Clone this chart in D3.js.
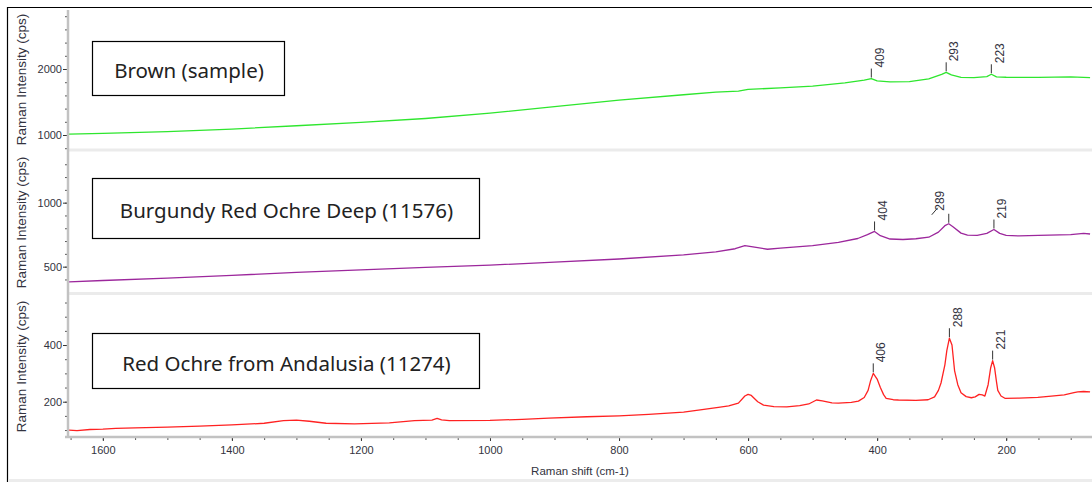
<!DOCTYPE html>
<html><head><meta charset="utf-8">
<script src="https://cdn.jsdelivr.net/npm/d3@7"></script>
<style>
html,body{margin:0;padding:0;background:#fff;}
svg{display:block;}
</style></head><body>
<svg id="chart" width="1092" height="482"></svg>
<script>
// ---------------- data ----------------
const xTickValues = [1600, 1400, 1200, 1000, 800, 600, 400, 200];
const seriesNames = ["Brown (sample)", "Burgundy Red Ochre Deep (11576)", "Red Ochre from Andalusia (11274)"];
const axisTitleY = "Raman Intensity (cps)";
const axisTitleX = "Raman shift (cm-1)";

const brownX = [1654,1600,1500,1400,1300,1200,1100,1000,900,800,700,650,615,600,550,500,450,420,409,400,380,350,320,300,293,285,270,250,230,223,215,200,150,100,70];
const brownY = [1012,1025,1050,1090,1140,1190,1250,1330,1430,1530,1610,1650,1665,1690,1715,1740,1790,1830,1855,1820,1805,1810,1850,1920,1950,1910,1872,1870,1885,1920,1880,1875,1872,1880,1870];
const brownTicks = [1000, 2000];
const brownPeaks = [409, 293, 223];

const burgundyX = [1654,1600,1500,1400,1300,1200,1100,1000,900,800,700,650,620,605,590,570,550,500,460,430,415,404,395,380,360,340,320,305,295,289,282,270,260,245,230,219,210,200,180,150,100,80,70];
const burgundyY = [380,392,410,432,455,475,495,512,535,560,592,615,640,665,652,636,645,665,690,720,750,775,742,716,712,718,730,770,820,835,810,762,746,745,760,790,760,745,740,745,750,760,755];
const burgundyTicks = [500, 1000];
const burgundyPeaks = [404, 289, 219];

const redX = [1654,1640,1620,1600,1580,1550,1500,1450,1400,1350,1320,1300,1280,1254,1210,1156,1117,1090,1082,1075,1063,1000,950,909,850,800,754,700,677,646,630,615,605,600,595,585,576,560,540,520,506,494,485,470,460,440,429,420,414,410,406,400,395,390,386,375,367,340,321,311,305,301,295,292,288,284,280,275,270,262,254,248,242,237,233,228,224,221,218,215,213,208,202,180,151,130,110,95,89,80,70];
const redY = [100,98,102,103,106,108,110,114,118,124,133,135,131,124,122,125,133,135,141,136,133,134,138,142,147,150,155,163,170,180,185,195,220,226,222,200,188,183,182,186,192,206,203,196,195,198,202,215,240,275,300,280,250,225,212,207,206,205,207,217,240,266,330,380,424,400,310,260,232,218,214,217,226,224,220,260,320,345,320,270,240,220,212,213,215,220,224,232,235,236,235];
const redTicks = [200, 400];
const redPeaks = [406, 288, 221];

// ---------------- layout ----------------
const svg = d3.select("#chart");
const W = 1092, H = 482;
const plotLeft = 68, plotRight = 1092;
const x = d3.scaleLinear().domain([1654, 67]).range([plotLeft, plotRight]);
const tickFont = "'Liberation Sans', Arial, sans-serif";
const textColor = "#333340";

const panels = [
  {name: seriesNames[0], xs: brownX, ys: brownY, peaks: brownPeaks, ticks: brownTicks, minor: 200,
   color: "#2ee62e", domain: [788, 2894], range: [149, 10], box: [92, 41, 284, 95]},
  {name: seriesNames[1], xs: burgundyX, ys: burgundyY, peaks: burgundyPeaks, ticks: burgundyTicks, minor: 100,
   color: "#9c279c", domain: [302, 1388], range: [292, 153], box: [92, 178, 479, 238]},
  {name: seriesNames[2], xs: redX, ys: redY, peaks: redPeaks, ticks: redTicks, minor: 50,
   color: "#ff2222", domain: [75.5, 573], range: [437, 296], box: [92, 333, 479, 388]}
];

// outer frame
svg.append("line").attr("x1", 7.5).attr("x2", 7.5).attr("y1", 7).attr("y2", H).attr("stroke", "#000").attr("stroke-width", 1.2);
svg.append("line").attr("x1", 7).attr("x2", W).attr("y1", 7.5).attr("y2", 7.5).attr("stroke", "#000").attr("stroke-width", 1.2);
svg.append("rect").attr("x", 8).attr("y", 479).attr("width", W - 8).attr("height", 3).attr("fill", "#ececec");

// panel separators
svg.append("rect").attr("x", plotLeft).attr("y", 148.5).attr("width", W - plotLeft).attr("height", 3).attr("fill", "#ebebeb");
svg.append("rect").attr("x", plotLeft).attr("y", 292).attr("width", W - plotLeft).attr("height", 3).attr("fill", "#ebebeb");

const defs = svg.append("defs");

panels.forEach((p, i) => {
  const y = d3.scaleLinear().domain(p.domain).range(p.range);
  const clipId = "clip" + i;
  defs.append("clipPath").attr("id", clipId).append("rect")
    .attr("x", plotLeft + 1).attr("y", p.range[1]).attr("width", plotRight - plotLeft).attr("height", p.range[0] - p.range[1]);

  // minor y ticks
  const minorVals = d3.range(Math.ceil(p.domain[0] / p.minor) * p.minor, p.domain[1], p.minor);
  const gMinor = svg.append("g").attr("transform", `translate(${plotLeft - 1},0)`)
    .call(d3.axisLeft(y).tickValues(minorVals).tickSize(2).tickFormat(""));
  gMinor.select(".domain").remove();
  gMinor.selectAll("line").attr("stroke", "#555");

  // major y ticks
  const gY = svg.append("g").attr("transform", `translate(${plotLeft - 1},0)`)
    .call(d3.axisLeft(y).tickValues(p.ticks).tickSize(4).tickPadding(1).tickFormat(d3.format("d")));
  gY.select(".domain").remove();
  gY.selectAll("line").attr("stroke", "#333");
  gY.selectAll("text").attr("font-family", tickFont).attr("font-size", 11).attr("fill", textColor);

  // y axis title
  const cy = (p.range[0] + p.range[1]) / 2;
  svg.append("text")
    .attr("transform", `translate(21,${cy}) rotate(-90)`)
    .attr("text-anchor", "middle").attr("dominant-baseline", "central")
    .attr("font-family", tickFont).attr("font-size", 13.5).attr("fill", textColor)
    .text(axisTitleY);

  // spectrum line
  const pts = p.xs.map((d, k) => [d, p.ys[k]]);
  const line = d3.line().x(d => x(d[0])).y(d => y(d[1]));
  svg.append("path").datum(pts).attr("d", line)
    .attr("clip-path", `url(#${clipId})`)
    .attr("fill", "none").attr("stroke", p.color).attr("stroke-width", 1.3)
    .attr("stroke-linejoin", "round");

  // peak labels
  p.peaks.forEach(pk => {
    const idx = p.xs.indexOf(pk);
    const px = x(pk), py = y(p.ys[idx]);
    const top = py - 10;
    const left = (pk === 289);
    const g = svg.append("g");
    g.append("line").attr("x1", px).attr("x2", px).attr("y1", py - 1).attr("y2", top)
      .attr("stroke", "#333").attr("stroke-width", 1);
    let tx = px + 8;
    if (left) {
      tx = px - 9;
      g.append("line").attr("x1", px - 17).attr("x2", px - 11).attr("y1", top + 1).attr("y2", top - 6)
        .attr("stroke", "#333").attr("stroke-width", 1);
    }
    g.append("text")
      .attr("transform", `translate(${tx},${top - (left ? 3 : 1)}) rotate(-90)`)
      .attr("text-anchor", "start").attr("dy", "0.35em")
      .attr("font-family", tickFont).attr("font-size", 12).attr("fill", textColor)
      .text(pk);
  });

  // legend box
  const b = p.box;
  svg.append("rect").attr("x", b[0] + 0.5).attr("y", b[1] + 0.5).attr("width", b[2] - b[0]).attr("height", b[3] - b[1])
    .attr("fill", "#fff").attr("stroke", "#000").attr("stroke-width", 1.2);
  svg.append("text").attr("x", (b[0] + b[2]) / 2 + 1).attr("y", (b[1] + b[3]) / 2 + 2)
    .attr("text-anchor", "middle").attr("dominant-baseline", "central")
    .attr("font-family", "'Noto Sans', 'Open Sans', sans-serif").attr("font-size", 20.5).attr("fill", "#222")
    .text(p.name);
});

// y axis line
svg.append("line").attr("x1", plotLeft).attr("x2", plotLeft).attr("y1", 10).attr("y2", 438)
  .attr("stroke", "#c2c2c2").attr("stroke-width", 2.5);

// x axis
const xAxisY = 437;
const gMinorX = svg.append("g").attr("transform", `translate(0,${xAxisY + 1})`)
  .call(d3.axisBottom(x).tickValues(d3.range(1650, 60, -50)).tickSize(2).tickFormat(""));
gMinorX.select(".domain").remove();
gMinorX.selectAll("line").attr("stroke", "#555");
const gX = svg.append("g").attr("transform", `translate(0,${xAxisY + 1})`)
  .call(d3.axisBottom(x).tickValues(xTickValues).tickSize(3).tickPadding(5).tickFormat(d3.format("d")));
gX.select(".domain").remove();
gX.selectAll("line").attr("stroke", "#333");
gX.selectAll("text").attr("font-family", tickFont).attr("font-size", 11).attr("fill", textColor);
svg.append("line").attr("x1", 65).attr("x2", W).attr("y1", xAxisY).attr("y2", xAxisY)
  .attr("stroke", "#c2c2c2").attr("stroke-width", 2.5);

svg.append("text").attr("x", (plotLeft + plotRight) / 2).attr("y", 475)
  .attr("text-anchor", "middle")
  .attr("font-family", tickFont).attr("font-size", 11.5).attr("fill", textColor)
  .text(axisTitleX);
</script>
</body></html>
